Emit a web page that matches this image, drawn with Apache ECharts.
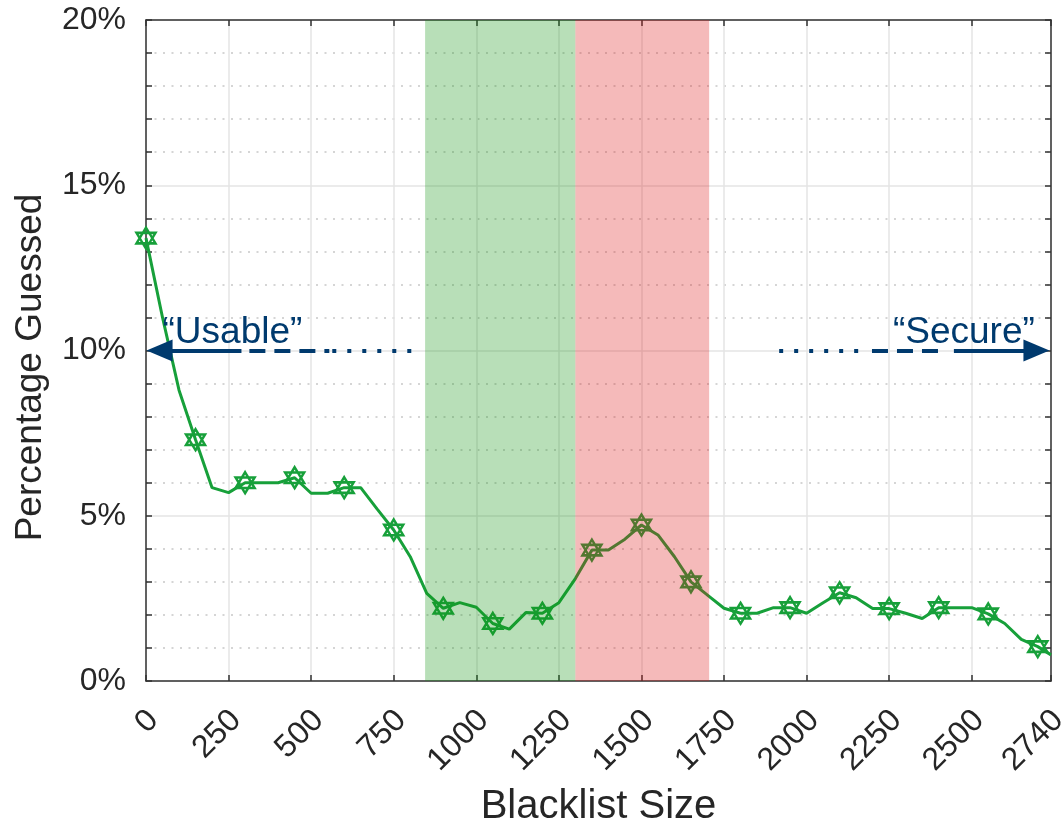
<!DOCTYPE html>
<html>
<head>
<meta charset="utf-8">
<script src="https://cdn.jsdelivr.net/npm/echarts@6/dist/echarts.min.js"></script>
<style>
html,body{margin:0;padding:0;background:#fff;}
#chart{width:1063px;height:824px;}
</style>
</head>
<body>
<div id="chart"></div>
<script>
// ---- data ----
const blacklistSize = [0,50,100,150,200,250,300,350,400,450,500,550,600,650,700,750,800,850,900,950,1000,1050,1100,1150,1200,1250,1300,1350,1400,1450,1500,1550,1600,1650,1700,1750,1800,1850,1900,1950,2000,2050,2100,2150,2200,2250,2300,2350,2400,2450,2500,2550,2600,2650,2700,2740];
const percentGuessed = [13.4,11.0,8.8,7.3,5.85,5.7,6.0,6.0,6.0,6.15,5.68,5.68,5.85,5.85,5.2,4.57,3.76,2.65,2.2,2.37,2.23,1.74,1.57,2.07,2.05,2.37,3.1,3.96,3.96,4.29,4.72,4.42,3.76,3.0,2.6,2.2,2.05,2.05,2.22,2.22,2.05,2.37,2.67,2.52,2.19,2.19,2.05,1.89,2.22,2.22,2.22,2.03,1.74,1.26,1.04,0.79];
const markerStep = 150;
const usableBand = [845, 1300];
const secureBand = [1300, 1705];
const arrowLevel = 10;
const xMin = 0, xMax = 2740, xInterval = 250;
const yMin = 0, yMax = 20, yInterval = 5;

const lineData = blacklistSize.map((x, i) => [x, percentGuessed[i]]);
const markerData = lineData.filter(d => d[0] % markerStep === 0);

const GREEN = '#17a03a';
const NAVY = '#003a6e';
const TXT = '#262626';
const FONT = 'Liberation Sans, Arial, Helvetica, sans-serif';
const hexagram = 'path://M0,-10 L8.66,5 L-8.66,5 Z M0,10 L8.66,-5 L-8.66,-5 Z';

const chart = echarts.init(document.getElementById('chart'), null, {renderer: 'canvas'});

function seg(a, b, type, symStart, symEnd) {
  return [
    {coord: [a, arrowLevel], symbol: symStart || 'none', symbolSize: [22, 26],
     lineStyle: {color: NAVY, width: 4, type: type}},
    {coord: [b, arrowLevel], symbol: symEnd || 'none', symbolSize: [22, 26]}
  ];
}

const option = {
  animation: false,
  backgroundColor: '#fff',
  textStyle: {fontFamily: FONT},
  grid: {left: 146, right: 12, top: 20, bottom: 143, containLabel: false, outerBoundsMode: 'none'},
  xAxis: [{
    type: 'value', min: xMin, max: xMax, interval: xInterval, position: 'bottom',
    name: 'Blacklist Size', nameLocation: 'middle', nameGap: 106,
    nameTextStyle: {fontSize: 40, color: TXT, fontFamily: FONT},
    axisLine: {show: true, onZero: false, lineStyle: {color: '#333', width: 1.5}},
    axisTick: {show: true, inside: true, length: 6, lineStyle: {color: '#333', width: 1.5}},
    axisLabel: {rotate: 45, fontSize: 32, color: TXT, margin: 27,
      verticalAlign: 'top', lineHeight: 21,
      fontFamily: FONT, showMaxLabel: true, showMinLabel: true,
      formatter: v => String(v)},
    splitLine: {show: true, lineStyle: {color: '#e4e4e4', width: 1.5}}
  }, {
    type: 'value', min: xMin, max: xMax, interval: xInterval, position: 'top',
    axisLine: {show: true, onZero: false, lineStyle: {color: '#333', width: 1.5}},
    axisTick: {show: true, inside: true, length: 6, lineStyle: {color: '#333', width: 1.5}},
    axisLabel: {show: false}, splitLine: {show: false}
  }],
  yAxis: [{
    type: 'value', min: yMin, max: yMax, interval: yInterval, position: 'left',
    name: 'Percentage Guessed', nameLocation: 'middle', nameGap: 97,
    nameTextStyle: {fontSize: 37, color: TXT, fontFamily: FONT, padding: [0, 34, 0, 0]},
    axisLine: {show: true, onZero: false, lineStyle: {color: '#333', width: 1.5}},
    axisTick: {show: true, inside: true, length: 6, lineStyle: {color: '#333', width: 1.5}},
    minorTick: {show: true, splitNumber: 5, length: 6, lineStyle: {color: '#333', width: 1.5}},
    axisLabel: {formatter: '{value}%', fontSize: 32, color: TXT, margin: 20, fontFamily: FONT},
    splitLine: {show: true, lineStyle: {color: '#e4e4e4', width: 1.5}},
    minorSplitLine: {show: true, lineStyle: {color: '#c8c8c8', width: 1.5, type: [2, 6.5]}}
  }, {
    type: 'value', min: yMin, max: yMax, interval: yInterval, position: 'right',
    axisLine: {show: true, onZero: false, lineStyle: {color: '#333', width: 1.5}},
    axisTick: {show: true, inside: true, length: 6, lineStyle: {color: '#333', width: 1.5}},
    minorTick: {show: true, splitNumber: 5, length: 6, lineStyle: {color: '#333', width: 1.5}},
    axisLabel: {show: false}, splitLine: {show: false}
  }],
  series: [{
    type: 'line', data: lineData, xAxisIndex: 0, yAxisIndex: 0,
    showSymbol: false, symbol: 'none', z: 2,
    lineStyle: {color: GREEN, width: 3}
  }, {
    type: 'scatter', data: markerData, xAxisIndex: 0, yAxisIndex: 0,
    symbol: hexagram, symbolSize: [19, 21], z: 3,
    itemStyle: {color: 'rgba(255,255,255,0)', borderColor: GREEN, borderWidth: 2.5, opacity: 1}
  }, {
    type: 'line', data: [], xAxisIndex: 0, yAxisIndex: 0, z: 10,
    markArea: {
      silent: true, z: 10,
      data: [
        [{xAxis: usableBand[0], itemStyle: {color: 'rgba(20,150,20,0.3)'}}, {xAxis: usableBand[1]}],
        [{xAxis: secureBand[0], itemStyle: {color: 'rgba(222,25,25,0.3)'}}, {xAxis: secureBand[1]}]
      ]
    },
    markLine: {
      silent: true, z: 11, animation: false,
      label: {show: false},
      emphasis: {disabled: true},
      data: [
        seg(41, 289, 'solid', 'triangle', 'none'),
        seg(313, 555, [16, 9]),
        seg(564, 821, [4, 11]),
        seg(1917, 2189, [4, 11]),
        seg(2198, 2419, [16, 9]),
        seg(2446, 2696, 'solid', 'none', 'triangle')
      ]
    }
  }, {
    type: 'scatter', xAxisIndex: 0, yAxisIndex: 0, z: 12, silent: true,
    symbolSize: 0,
    itemStyle: {opacity: 1},
    data: [
      {value: [50, 10.55], label: {show: true, position: 'right', distance: 0, align: 'left', formatter: '\u201CUsable\u201D'}},
      {value: [2691, 10.55], label: {show: true, position: 'left', distance: 0, align: 'right', formatter: '\u201CSecure\u201D'}}
    ],
    label: {fontSize: 37, color: NAVY, fontFamily: FONT, opacity: 1}
  }]
};
chart.setOption(option);
</script>
</body>
</html>
